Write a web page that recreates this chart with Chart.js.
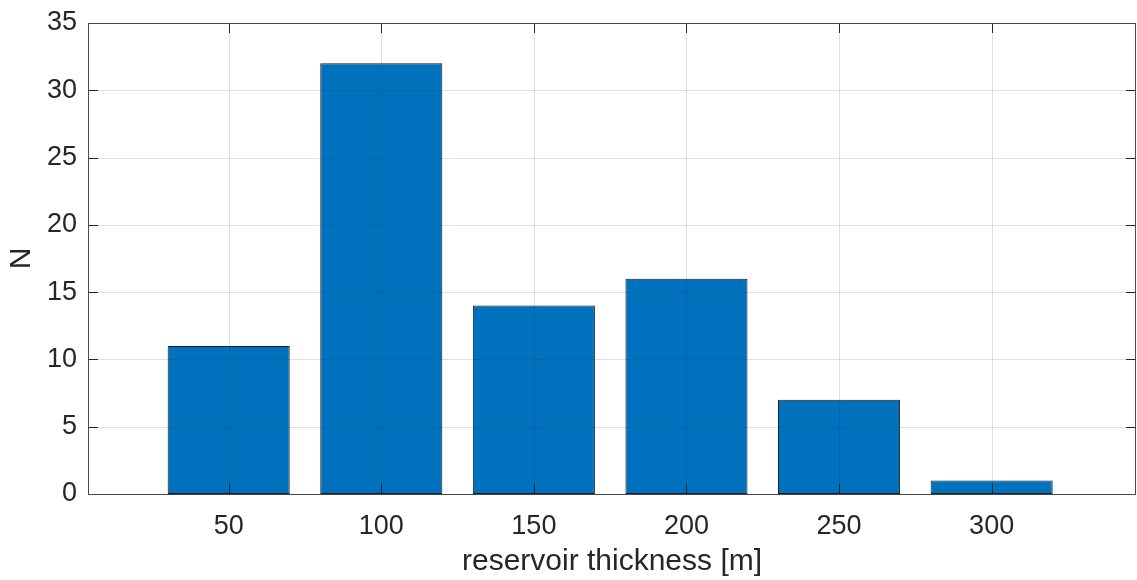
<!DOCTYPE html>
<html>
<head>
<meta charset="utf-8">
<script src="https://cdn.jsdelivr.net/npm/chart.js@4.4.1/dist/chart.umd.min.js"></script>
<style>
    html, body { margin: 0; padding: 0; background: #fff; }
    #wrap { width: 1137px; height: 580px; }
</style>
</head>
<body>
<div id="wrap"><canvas id="thicknessChart"></canvas></div>
<script>
// Histogram data: bin centres [m] and counts
const thickness = [0, 50, 100, 150, 200, 250, 300];
const counts = [0, 11, 32, 14, 16, 7, 1];
const xTicks = [50, 100, 150, 200, 250, 300];
const yTicks = [0, 5, 10, 15, 20, 25, 30, 35];

const FONT = "'Liberation Sans', Arial, Helvetica, sans-serif";
const AXIS_COLOR = '#262626';

// Grid, box and inward tick marks, drawn on top of the bars
const axesBox = {
    id: 'axesBox',
    afterDatasetsDraw(chart) {
        const { ctx, chartArea: a, scales: { x, y } } = chart;
        ctx.save();
        ctx.lineWidth = 1;
        ctx.strokeStyle = 'rgba(38, 38, 38, 0.15)';
        ctx.beginPath();
        xTicks.forEach(v => {
            const px = Math.round(x.getPixelForValue(v)) + 0.5;
            ctx.moveTo(px, a.top);
            ctx.lineTo(px, a.bottom);
        });
        yTicks.slice(1, -1).forEach(v => {
            const py = Math.round(y.getPixelForValue(v)) + 0.5;
            ctx.moveTo(a.left, py);
            ctx.lineTo(a.right, py);
        });
        ctx.stroke();

        const tick = 10;
        ctx.strokeStyle = AXIS_COLOR;
        ctx.beginPath();
        xTicks.forEach(v => {
            const px = Math.round(x.getPixelForValue(v)) + 0.5;
            ctx.moveTo(px, a.bottom);
            ctx.lineTo(px, a.bottom - tick);
            ctx.moveTo(px, a.top);
            ctx.lineTo(px, a.top + tick);
        });
        yTicks.forEach(v => {
            const py = Math.round(y.getPixelForValue(v)) + 0.5;
            ctx.moveTo(a.left, py);
            ctx.lineTo(a.left + tick, py);
            ctx.moveTo(a.right, py);
            ctx.lineTo(a.right - tick, py);
        });
        ctx.stroke();

        ctx.strokeStyle = '#4a4a4a';
        ctx.strokeRect(Math.round(a.left) + 0.5, Math.round(a.top) + 0.5,
            Math.round(a.right - a.left) - 1, Math.round(a.bottom - a.top));
        ctx.restore();
    }
};

const ctx = document.getElementById('thicknessChart').getContext('2d');
const thicknessChart = new Chart(ctx, {
    type: 'bar',
    data: {
        datasets: [{
            data: thickness.map((t, i) => ({ x: t, y: counts[i] })),
            backgroundColor: '#0072BD',
            borderColor: '#1a1a1a',
            borderWidth: 1,
            borderSkipped: false,
            barPercentage: 0.8,
            categoryPercentage: 1.0
        }]
    },
    options: {
        responsive: true,
        maintainAspectRatio: false,
        animation: false,
        layout: {
            padding: { top: 23, right: 1, left: 0, bottom: 0 }
        },
        plugins: {
            legend: { display: false },
            tooltip: { enabled: false }
        },
        scales: {
            x: {
                type: 'linear',
                offset: false,
                min: 3.9,
                max: 347.3,
                afterBuildTicks: scale => {
                    scale.ticks = xTicks.map(v => ({ value: v }));
                },
                afterFit: scale => {
                    scale.height = 86;
                    scale.paddingLeft = 0;
                    scale.paddingRight = 0;
                },
                grid: { display: false, drawTicks: false, tickLength: 0, offset: false },
                border: { display: false },
                ticks: {
                    padding: 16,
                    color: AXIS_COLOR,
                    font: { family: FONT, size: 27 },
                    maxRotation: 0
                },
                title: {
                    display: true,
                    text: 'reservoir thickness [m]',
                    color: AXIS_COLOR,
                    font: { family: FONT, size: 30 },
                    padding: { top: 0, bottom: 0 }
                }
            },
            y: {
                min: 0,
                max: 35,
                afterBuildTicks: scale => {
                    scale.ticks = yTicks.map(v => ({ value: v }));
                },
                afterFit: scale => {
                    scale.width = 88;
                    scale.paddingTop = 0;
                    scale.paddingBottom = 0;
                },
                grid: { display: false, drawTicks: false, tickLength: 0 },
                border: { display: false },
                ticks: {
                    padding: 11,
                    color: AXIS_COLOR,
                    font: { family: FONT, size: 27 }
                },
                title: {
                    display: true,
                    text: 'N',
                    color: AXIS_COLOR,
                    font: { family: FONT, size: 30 },
                    padding: { top: 4, bottom: 0 }
                }
            }
        }
    },
    plugins: [axesBox]
});
</script>
</body>
</html>
